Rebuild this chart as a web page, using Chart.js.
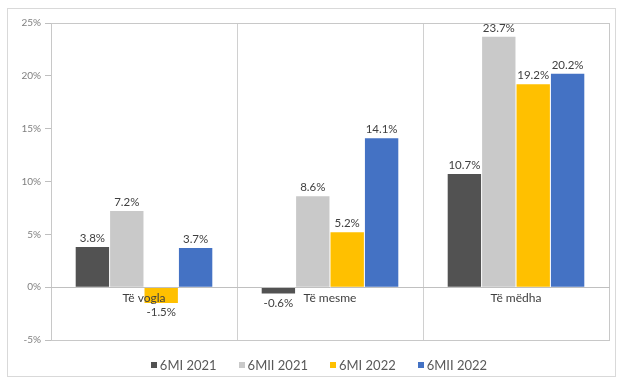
<!DOCTYPE html>
<html>
<head>
<meta charset="utf-8">
<script src="https://cdn.jsdelivr.net/npm/chart.js@4/dist/chart.umd.min.js"></script>
<style>
  html, body { margin: 0; padding: 0; background: #fff; }
  #wrap { position: relative; width: 618px; height: 381px; }
  #frame { position: absolute; left: 7px; top: 8px; width: 609px; height: 369px;
           border: 1px solid #d9d9d9; box-sizing: border-box; }
  #c { position: absolute; left: 0; top: 0; }
  #legend { position: absolute; left: 0; top: 357px; width: 638px; display: flex;
            justify-content: center; gap: 22px; font: 13px Lato, "Liberation Sans", sans-serif;
            color: #595959; line-height: 16px; }
  #legend .item { display: flex; align-items: center; }
  #legend .sw { width: 6px; height: 6px; margin-right: 3px; }
</style>
</head>
<body>
<div id="wrap">
  <div id="frame"></div>
  <canvas id="c" width="618" height="381"></canvas>
  <div id="legend"></div>
</div>
<script>
// Categories and series (growth, %)
const categories = ['Të vogla', 'Të mesme', 'Të mëdha'];
const seriesNames = ['6MI 2021', '6MII 2021', '6MI 2022', '6MII 2022'];
const s6MI2021  = [3.8, -0.6, 10.7];
const s6MII2021 = [7.2, 8.6, 23.7];
const s6MI2022  = [-1.5, 5.2, 19.2];
const s6MII2022 = [3.7, 14.1, 20.2];
const seriesColors = ['#525252', '#c9c9c9', '#ffc000', '#4472c4'];
const yMin = -5, yMax = 25, yStep = 5;

const seriesValues = [s6MI2021, s6MII2021, s6MI2022, s6MII2022];

// Value labels above positive bars, below negative ones
const valueLabels = {
  id: 'valueLabels',
  afterDatasetsDraw(chart) {
    const ctx = chart.ctx;
    ctx.save();
    ctx.font = '11.5px Lato, "Liberation Sans", sans-serif';
    ctx.fillStyle = '#404040';
    ctx.textAlign = 'center';
    chart.data.datasets.forEach((ds, i) => {
      const meta = chart.getDatasetMeta(i);
      meta.data.forEach((bar, j) => {
        const v = ds.data[j];
        const txt = v.toFixed(1) + '%';
        if (v >= 0) {
          ctx.textBaseline = 'bottom';
          ctx.fillText(txt, bar.x, bar.y - 3);
        } else {
          ctx.textBaseline = 'top';
          ctx.fillText(txt, bar.x, bar.y + 4);
        }
      });
    });
    ctx.restore();
  }
};

// Plot-area outline
const plotBorder = {
  id: 'plotBorder',
  beforeDatasetsDraw(chart) {
    const a = chart.chartArea, ctx = chart.ctx;
    ctx.save();
    ctx.strokeStyle = '#c8c8c8';
    ctx.lineWidth = 1;
    ctx.strokeRect(Math.round(a.left) + 0.5, Math.round(a.top) + 0.5,
                   Math.round(a.right - a.left), Math.round(a.bottom - a.top));
    ctx.restore();
  }
};

const chart = new Chart(document.getElementById('c'), {
  type: 'bar',
  data: {
    labels: categories,
    datasets: seriesValues.map((vals, i) => ({
      label: seriesNames[i],
      data: vals,
      backgroundColor: seriesColors[i],
      borderWidth: 0,
      barPercentage: 0.97,
      categoryPercentage: 0.74
    }))
  },
  options: {
    responsive: false,
    animation: false,
    layout: { padding: { top: 23, right: 9, bottom: 41, left: 0 } },
    plugins: { legend: { display: false }, tooltip: { enabled: false } },
    scales: {
      x: {
        position: { y: 0 },
        offset: true,
        grid: { offset: true, color: '#d0d0d0', drawTicks: false },
        border: { display: true, color: '#c0c0c0', z: 1 },
        ticks: { z: 1, padding: 4, color: '#404040', font: { size: 12, family: 'Lato, "Liberation Sans", sans-serif' } }
      },
      y: {
        min: yMin, max: yMax,
        afterFit(scale) { scale.width = 51; },
        grid: { drawOnChartArea: false, drawTicks: true, tickLength: 6, color: '#bfbfbf' },
        border: { display: true, color: '#bfbfbf' },
        ticks: {
          stepSize: yStep, padding: 4, color: '#7f7f7f',
          font: { size: 10, family: 'Lato, "Liberation Sans", sans-serif' },
          callback: v => v + '%'
        }
      }
    }
  },
  plugins: [plotBorder, valueLabels]
});

// Legend built from the chart's datasets
const legend = document.getElementById('legend');
chart.data.datasets.forEach(ds => {
  const item = document.createElement('div');
  item.className = 'item';
  const sw = document.createElement('span');
  sw.className = 'sw';
  sw.style.background = ds.backgroundColor;
  const tx = document.createElement('span');
  tx.textContent = ds.label;
  item.appendChild(sw); item.appendChild(tx);
  legend.appendChild(item);
});
</script>
</body>
</html>
